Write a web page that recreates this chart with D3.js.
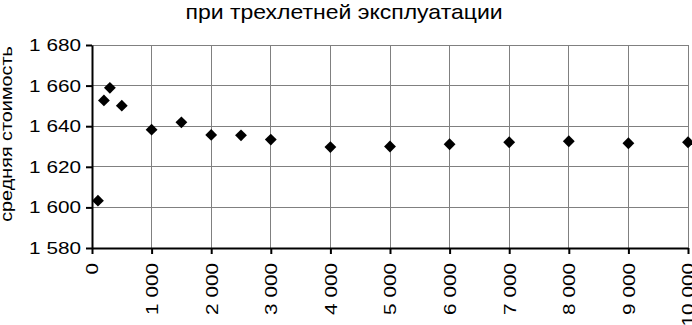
<!DOCTYPE html>
<html>
<head>
<meta charset="utf-8">
<script src="https://cdn.jsdelivr.net/npm/d3@7"></script>
<style>
  body { margin: 0; background: #fff; }
  text { font-family: "Liberation Sans", Arial, sans-serif; fill: #000; }
</style>
</head>
<body>
<div id="container"></div>
<script>
let width = 692;
let height = 325;

// km run per year vs mean cost
var runs = [100, 200, 300, 500, 1000, 1500, 2000, 2500, 3000, 4000, 5000, 6000, 7000, 8000, 9000, 10000];
var costs = [1603.3, 1652.7, 1658.9, 1650.1, 1638.3, 1641.9, 1635.7, 1635.5, 1633.4, 1629.7, 1630.0, 1631.1, 1632.1, 1632.6, 1631.6, 1632.1];

var yTicks = [1580, 1600, 1620, 1640, 1660, 1680];
var xTicks = [0, 1000, 2000, 3000, 4000, 5000, 6000, 7000, 8000, 9000, 10000];

var titleText = "при трехлетней эксплуатации";
var yTitle = "средняя стоимость";

var margin = {top: 45, right: 4, bottom: 77, left: 92};

// the original font is wider than Arial, so stretch text along its run
var stretch = 1.22;

var ru = d3.formatLocale({decimal: ",", thousands: " ", grouping: [3], currency: ["", ""]});
var fmt = ru.format(",d");

let svg = d3.select("#container").append("svg")
  .attr("width", width)
  .attr("height", height);

var x = d3.scaleLinear().domain([0, 10000]).range([margin.left, width - margin.right]);
var y = d3.scaleLinear().domain([1580, 1680]).range([height - margin.bottom, margin.top]);

// grid
svg.append("g")
  .selectAll("line.h")
  .data(yTicks.slice(1))
  .enter().append("line")
  .attr("x1", x(0)).attr("x2", x(10000))
  .attr("y1", function(d){ return y(d); }).attr("y2", function(d){ return y(d); })
  .attr("stroke", "#808080").attr("stroke-width", 1).attr("shape-rendering", "crispEdges");

svg.append("g")
  .selectAll("line.v")
  .data(xTicks.slice(1))
  .enter().append("line")
  .attr("y1", y(1580)).attr("y2", y(1680))
  .attr("x1", function(d){ return x(d); }).attr("x2", function(d){ return x(d); })
  .attr("stroke", "#808080").attr("stroke-width", 1).attr("shape-rendering", "crispEdges");

// axes
let yAxis = svg.append("g")
  .attr("transform", "translate(" + x(0) + ",0)")
  .call(d3.axisLeft(y).tickValues(yTicks).tickFormat(fmt).tickSize(6).tickSizeOuter(0));

let xAxis = svg.append("g")
  .attr("transform", "translate(0," + y(1580) + ")")
  .call(d3.axisBottom(x).tickValues(xTicks).tickFormat(fmt).tickSize(6).tickSizeOuter(0));

[yAxis, xAxis].forEach(function(a){
  a.select(".domain").attr("stroke", "#000").attr("stroke-width", 2);
  a.selectAll(".tick line").attr("stroke", "#000").attr("stroke-width", 2);
  a.selectAll("text").style("font-size", "17px").style("font-family", "'Liberation Sans', Arial, sans-serif");
});

yAxis.selectAll(".tick text")
  .attr("x", 0)
  .attr("transform", "translate(-11,0) scale(" + stretch + ",1)");

xAxis.selectAll(".tick text")
  .attr("transform", "translate(0,15) rotate(-90) scale(" + stretch + ",1)")
  .attr("text-anchor", "end")
  .attr("x", 0)
  .attr("y", 0)
  .attr("dy", "0.35em");

// points
svg.append("g")
  .selectAll("path")
  .data(runs)
  .enter().append("path")
  .attr("d", d3.symbol().type(d3.symbolSquare).size(70))
  .attr("transform", function(d, i){ return "translate(" + x(d) + "," + y(costs[i]) + ") rotate(45)"; })
  .attr("fill", "#000");

// titles
svg.append("text")
  .attr("transform", "translate(344,19) scale(1.15,1)")
  .attr("text-anchor", "middle")
  .style("font-size", "20px")
  .text(titleText);

svg.append("text")
  .attr("transform", "translate(12,134) rotate(-90) scale(1.2,1)")
  .attr("text-anchor", "middle")
  .style("font-size", "16.5px")
  .text(yTitle);
</script>
</body>
</html>
